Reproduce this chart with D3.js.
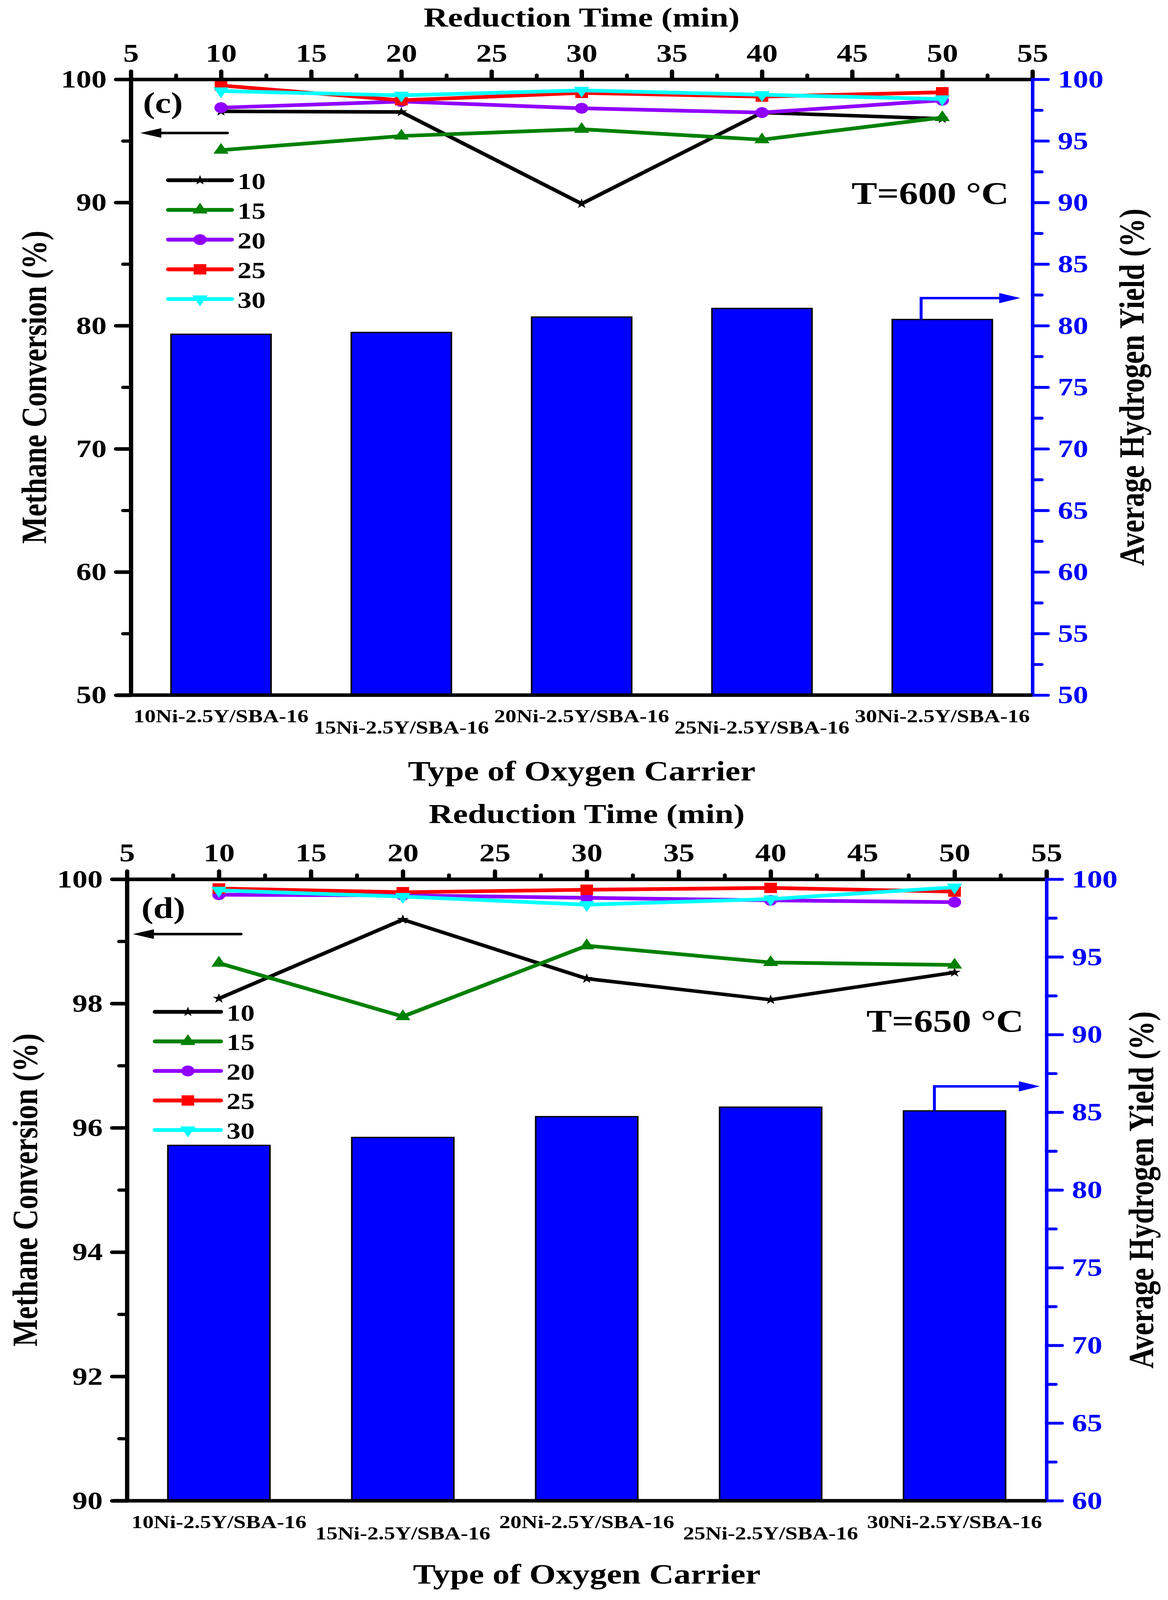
<!DOCTYPE html>
<html><head><meta charset="utf-8">
<script src="https://cdn.jsdelivr.net/npm/d3@7"></script>
<style>
html,body{margin:0;padding:0;background:#fff;overflow:hidden}
#chart{display:block;width:100vw;height:100vh}
svg text{font-family:"Liberation Serif","Times New Roman",serif;font-weight:bold}
</style>
</head><body>
<svg id="chart" viewBox="0 0 2990 4981" preserveAspectRatio="none"></svg>
<script>
// ---------- data ----------
const times = [10, 20, 30, 40, 50];
const seriesLabels = ["10", "15", "20", "25", "30"];
const carriers = ["10Ni-2.5Y/SBA-16", "15Ni-2.5Y/SBA-16", "20Ni-2.5Y/SBA-16", "25Ni-2.5Y/SBA-16", "30Ni-2.5Y/SBA-16"];
const topTicks = [5, 10, 15, 20, 25, 30, 35, 40, 45, 50, 55];

// T = 600 °C (panel c)
const conv600_10 = [97.4, 97.35, 89.9, 97.3, 96.8];
const conv600_15 = [94.25, 95.4, 95.95, 95.1, 96.9];
const conv600_20 = [97.7, 98.2, 97.65, 97.3, 98.3];
const conv600_25 = [99.5, 98.3, 98.9, 98.6, 98.95];
const conv600_30 = [99.05, 98.7, 99.1, 98.75, 98.4];
const yield600 = [79.3, 79.45, 80.7, 81.4, 80.5];
const leftTicks600 = [50, 60, 70, 80, 90, 100];
const leftMinor600 = [55, 65, 75, 85, 95];
const rightTicks600 = [50, 55, 60, 65, 70, 75, 80, 85, 90, 95, 100];
const rightMinor600 = [52.5, 57.5, 62.5, 67.5, 72.5, 77.5, 82.5, 87.5, 92.5, 97.5];

// T = 650 °C (panel d)
const conv650_10 = [98.08, 99.35, 98.4, 98.06, 98.5];
const conv650_15 = [98.65, 97.79, 98.93, 98.66, 98.62];
const conv650_20 = [99.75, 99.74, 99.7, 99.66, 99.63];
const conv650_25 = [99.85, 99.79, 99.83, 99.86, 99.8];
const conv650_30 = [99.82, 99.72, 99.59, 99.68, 99.87];
const yield650 = [82.87, 83.38, 84.72, 85.33, 85.09];
const leftTicks650 = [90, 92, 94, 96, 98, 100];
const leftMinor650 = [91, 93, 95, 97, 99];
const rightTicks650 = [60, 65, 70, 75, 80, 85, 90, 95, 100];
const rightMinor650 = [62.5, 67.5, 72.5, 77.5, 82.5, 87.5, 92.5, 97.5];

// ---------- styles ----------
const seriesColors = ["#000000", "#008000", "#9000ff", "#ff0000", "#00ffff"];
const seriesSymbols = [d3.symbolStar, d3.symbolTriangle, d3.symbolCircle, d3.symbolSquare, d3.symbolTriangle];
const seriesSizes = [300, 650, 900, 1050, 660];
const seriesRot = [0, 0, 0, 0, 180];
const seriesWidths = [11, 11.5, 11.5, 11.5, 11.5];
const BLUE = "#0000ff";

const svg = d3.select("#chart");

function drawPanel(c) {
  const g = svg.append("g");
  const x = d3.scaleLinear().domain([5, 55]).range([c.x0, c.x1]);
  const yL = d3.scaleLinear().domain(c.leftDomain).range([c.y1, c.y0]);
  const yR = d3.scaleLinear().domain(c.rightDomain).range([c.y1, c.y0]);
  const barW = 5.55;

  // bars
  g.selectAll("rect.bar").data(c.bars).join("rect")
    .attr("class", "bar")
    .attr("x", (d, i) => x(times[i] - barW / 2))
    .attr("width", (d, i) => x(times[i] + barW / 2) - x(times[i] - barW / 2))
    .attr("y", d => yR(d))
    .attr("height", d => c.y1 - yR(d))
    .attr("fill", BLUE).attr("stroke", "#000").attr("stroke-width", 4);

  // category labels (staggered)
  g.selectAll("text.cat").data(carriers).join("text")
    .attr("class", "cat")
    .attr("x", (d, i) => x(times[i]))
    .attr("y", (d, i) => c.y1 + (i % 2 ? 120 : 85))
    .attr("text-anchor", "middle")
    .attr("font-size", 57)
    .text(d => d);

  // series lines & markers
  c.series.forEach((vals, s) => {
    const line = d3.line().x((d, i) => x(times[i])).y(d => yL(d));
    g.append("path").datum(vals)
      .attr("d", line).attr("fill", "none")
      .attr("stroke", seriesColors[s]).attr("stroke-width", seriesWidths[s])
      .attr("stroke-linejoin", "round").attr("stroke-linecap", "round");
    const sym = d3.symbol().type(seriesSymbols[s]).size(seriesSizes[s]);
    g.selectAll(null).data(vals).join("path")
      .attr("d", sym)
      .attr("transform", (d, i) => `translate(${x(times[i])},${yL(d)}) rotate(${seriesRot[s]})`)
      .attr("fill", seriesColors[s]);
  });

  // axes
  function styleAxis(sel, color, fs, tw) {
    sel.attr("font-size", fs).attr("font-family", null);
    sel.selectAll("text").attr("fill", color);
    sel.selectAll("line").attr("stroke", color).attr("stroke-width", tw).attr("stroke-linecap", "round");
    sel.select(".domain").attr("stroke", color);
  }
  // top
  const axT = g.append("g").attr("transform", `translate(0,${c.y0})`)
    .call(d3.axisTop(x).tickValues(topTicks).tickSize(25).tickPadding(30).tickSizeOuter(0));
  styleAxis(axT, "#000", 80, 11);
  axT.select(".domain").attr("stroke-width", 11);
  const axTm = g.append("g").attr("transform", `translate(0,${c.y0})`)
    .call(d3.axisTop(x).tickValues(d3.range(7.5, 55, 5)).tickSize(13).tickFormat(() => ""));
  axTm.select(".domain").remove();
  styleAxis(axTm, "#000", 80, 10);
  // left
  const axL = g.append("g").attr("transform", `translate(${c.x0},0)`)
    .call(d3.axisLeft(yL).tickValues(c.leftTicks).tickSize(38).tickPadding(24).tickSizeOuter(0));
  styleAxis(axL, "#000", 78, 11);
  axL.select(".domain").attr("stroke-width", 11);
  const axLm = g.append("g").attr("transform", `translate(${c.x0},0)`)
    .call(d3.axisLeft(yL).tickValues(c.leftMinor).tickSize(20).tickFormat(() => ""));
  axLm.select(".domain").remove();
  styleAxis(axLm, "#000", 78, 10);
  // right
  const axR = g.append("g").attr("transform", `translate(${c.x1},0)`)
    .call(d3.axisRight(yR).tickValues(c.rightTicks).tickSize(40).tickPadding(25).tickSizeOuter(0));
  styleAxis(axR, BLUE, 78, 9);
  axR.select(".domain").attr("stroke-width", 9);
  const axRm = g.append("g").attr("transform", `translate(${c.x1},0)`)
    .call(d3.axisRight(yR).tickValues(c.rightMinor).tickSize(24).tickFormat(() => ""));
  axRm.select(".domain").remove();
  styleAxis(axRm, BLUE, 78, 9);
  // bottom
  g.append("line").attr("x1", c.x0 - 36).attr("x2", c.x1)
    .attr("y1", c.y1).attr("y2", c.y1)
    .attr("stroke", "#000").attr("stroke-width", 11);

  // titles
  g.append("text").attr("x", (c.x0 + c.x1) / 2).attr("y", c.y0 + c.topTitleDy)
    .attr("text-anchor", "middle").attr("font-size", 86).text("Reduction Time (min)");
  g.append("text").attr("x", (c.x0 + c.x1) / 2).attr("y", c.y1 + c.bottomTitleDy)
    .attr("text-anchor", "middle").attr("font-size", 87).text("Type of Oxygen Carrier");
  g.append("text").attr("transform", `translate(${c.leftTitleX},${(c.y0 + c.y1) / 2}) rotate(-90)`)
    .attr("text-anchor", "middle").attr("font-size", 90).text("Methane Conversion (%)");
  g.append("text").attr("transform", `translate(${c.rightTitleX},${(c.y0 + c.y1) / 2}) rotate(-90)`)
    .attr("text-anchor", "middle").attr("font-size", 90).text("Average Hydrogen Yield (%)");

  // panel label & temperature
  g.append("text").attr("x", c.labelX).attr("y", c.labelY).attr("font-size", 92).text(c.label);
  g.append("text").attr("x", c.tempX).attr("y", c.tempY).attr("font-size", 98).text(c.temp);

  // black arrow (points to left axis)
  g.append("line").attr("x1", c.arrowX2).attr("x2", c.arrowX1 + 40)
    .attr("y1", c.arrowY).attr("y2", c.arrowY)
    .attr("stroke", "#000").attr("stroke-width", 8).attr("stroke-linecap", "round");
  g.append("path")
    .attr("d", `M${c.arrowX1},${c.arrowY} L${c.arrowX1 + 54},${c.arrowY - 15} L${c.arrowX1 + 54},${c.arrowY + 15} Z`)
    .attr("fill", "#000");

  // blue arrow (points to right axis) from last bar
  const bx = c.blueX, by = yR(c.bars[4]);
  g.append("path")
    .attr("d", `M${bx},${by} L${bx},${c.blueY} L${c.blueX2 - 48},${c.blueY}`)
    .attr("fill", "none").attr("stroke", BLUE).attr("stroke-width", 7.5);
  g.append("path")
    .attr("d", `M${c.blueX2},${c.blueY} L${c.blueX2 - 54},${c.blueY - 16} L${c.blueX2 - 54},${c.blueY + 16} Z`)
    .attr("fill", BLUE);

  // legend
  seriesLabels.forEach((lab, s) => {
    const yy = c.legY + s * c.legStep;
    g.append("line").attr("x1", c.legX1).attr("x2", c.legX2).attr("y1", yy).attr("y2", yy)
      .attr("stroke", seriesColors[s]).attr("stroke-width", 12).attr("stroke-linecap", "round");
    g.append("path").attr("d", d3.symbol().type(seriesSymbols[s]).size(seriesSizes[s])())
      .attr("transform", `translate(${(c.legX1 + c.legX2) / 2},${yy}) rotate(${seriesRot[s]})`)
      .attr("fill", seriesColors[s]);
    g.append("text").attr("x", c.legX2 + 15).attr("y", yy + 27).attr("font-size", 72).text(lab);
  });
}

drawPanel({
  x0: 335, x1: 2643, y0: 247, y1: 2164,
  leftDomain: [50, 100], rightDomain: [50, 100],
  leftTicks: leftTicks600, leftMinor: leftMinor600,
  rightTicks: rightTicks600, rightMinor: rightMinor600,
  bars: yield600,
  series: [conv600_10, conv600_15, conv600_20, conv600_25, conv600_30],
  topTitleDy: -164, bottomTitleDy: 266,
  leftTitleX: 118, rightTitleX: 2928,
  label: "(c)", labelX: 366, labelY: 352,
  temp: "T=600 °C", tempX: 2180, tempY: 635,
  arrowX1: 359, arrowX2: 582, arrowY: 414,
  blueX: 2358, blueY: 928, blueX2: 2612,
  legX1: 431, legX2: 593, legY: 561, legStep: 92.5
});

drawPanel({
  x0: 325, x1: 2679, y0: 2737, y1: 4672,
  leftDomain: [90, 100], rightDomain: [60, 100],
  leftTicks: leftTicks650, leftMinor: leftMinor650,
  rightTicks: rightTicks650, rightMinor: rightMinor650,
  bars: yield650,
  series: [conv650_10, conv650_15, conv650_20, conv650_25, conv650_30],
  topTitleDy: -175, bottomTitleDy: 258,
  leftTitleX: 95, rightTitleX: 2952,
  label: "(d)", labelX: 362, labelY: 2858,
  temp: "T=650 °C", tempX: 2218, tempY: 3212,
  arrowX1: 340, arrowX2: 617, arrowY: 2908,
  blueX: 2392, blueY: 3382, blueX2: 2662,
  legX1: 397, legX2: 565, legY: 3150, legStep: 92
});
</script>
</body></html>
